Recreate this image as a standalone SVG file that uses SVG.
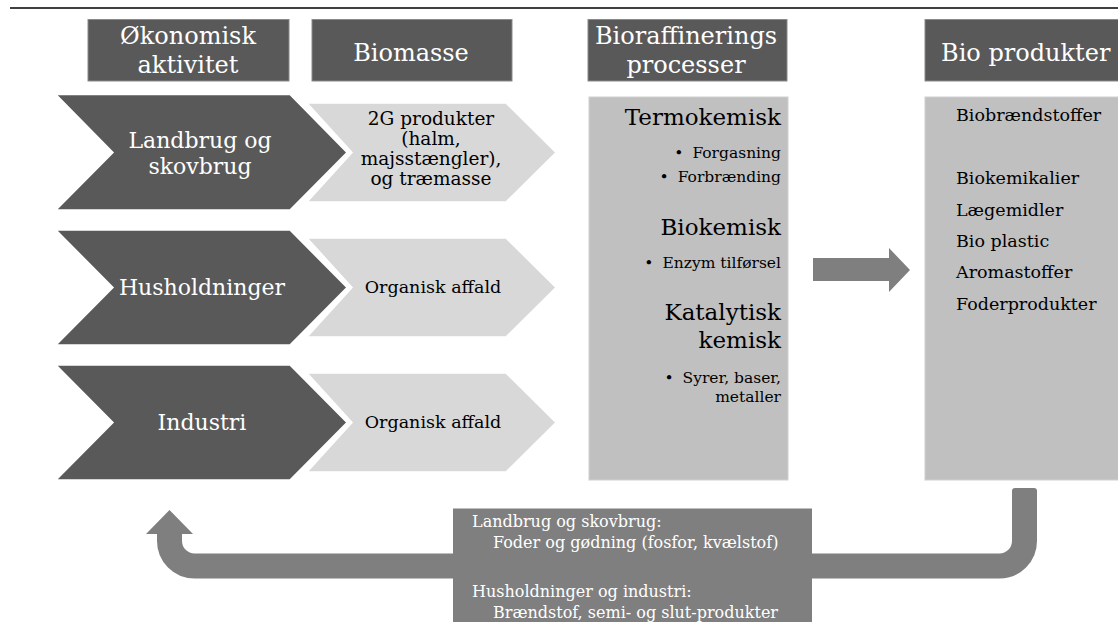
<svg xmlns="http://www.w3.org/2000/svg" width="1118" height="622" viewBox="0 0 1118 622">
<style>
.hdr{fill:#595959;stroke:#8a8a8a;stroke-width:1}
.ht{font-family:"DejaVu Serif",serif;font-size:24px;fill:#fff;text-anchor:middle}
.dk{fill:#595959;stroke:#fff;stroke-width:1.5}
.lc{fill:#d8d8d8;stroke:#fff;stroke-width:1.5}
.dt{font-family:"DejaVu Serif",serif;font-size:22px;fill:#fff;text-anchor:middle}
.ltx{font-family:"DejaVu Serif",serif;font-size:18.5px;fill:#000;text-anchor:middle}
.box{fill:#c0c0c0;stroke:#d0d0d0;stroke-width:1}
.sec{font-family:"DejaVu Serif",serif;font-size:23px;fill:#000;text-anchor:end}
.bul{font-family:"DejaVu Serif",serif;font-size:15.5px;fill:#000;text-anchor:end}
.prod{font-family:"DejaVu Serif",serif;font-size:17.5px;fill:#000}
.arrow{fill:#7f7f7f}
.band{fill:none;stroke:#7f7f7f;stroke-width:25}
.bt{font-family:"DejaVu Serif",serif;font-size:16px;fill:#fff}
</style>
<line x1="10" y1="8" x2="1118" y2="8" stroke="#000" stroke-width="1.5"/>

<g id="hdr-okonomisk">
<rect class="hdr" x="88" y="19.5" width="201" height="61.5"/>
<text class="ht" x="188" y="44">Økonomisk</text>
<text class="ht" x="188" y="73">aktivitet</text>
</g>
<g id="hdr-biomasse">
<rect class="hdr" x="312" y="19.5" width="200" height="61.5"/>
<text class="ht" x="411" y="61">Biomasse</text>
</g>
<g id="hdr-bioraff">
<rect class="hdr" x="588" y="19.5" width="199" height="61.5"/>
<text class="ht" x="686" y="44">Bioraffinerings</text>
<text class="ht" x="686" y="73">processer</text>
</g>
<g id="hdr-bioprod">
<rect class="hdr" x="925" y="19.5" width="200" height="61.5"/>
<text class="ht" x="941" y="61" style="text-anchor:start">Bio produkter</text>
</g>

<g id="row1-dark">
<polygon class="dk" points="56,94.5 290,94.5 347,152.5 290,210 56,210 113,152.5"/>
<text class="dt" x="200" y="148">Landbrug og</text>
<text class="dt" x="200" y="174">skovbrug</text>
</g>
<g id="row1-light">
<polygon class="lc" points="307,103 506,103 556,152.5 506,202 307,202 352,152.5"/>
<text class="ltx" x="431" y="125">2G produkter</text>
<text class="ltx" x="431" y="145">(halm,</text>
<text class="ltx" x="431" y="165">majsstængler),</text>
<text class="ltx" x="431" y="185">og træmasse</text>
</g>
<g id="row2-dark">
<polygon class="dk" points="56,230 290,230 347,287.5 290,345 56,345 113,287.5"/>
<text class="dt" x="202" y="295">Husholdninger</text>
</g>
<g id="row2-light">
<polygon class="lc" points="307,238 506,238 556,287.5 506,337 307,337 352,287.5"/>
<text class="ltx" x="433" y="293" style="font-size:17.5px">Organisk affald</text>
</g>
<g id="row3-dark">
<polygon class="dk" points="56,365 290,365 347,422.5 290,480 56,480 113,422.5"/>
<text class="dt" x="202" y="430">Industri</text>
</g>
<g id="row3-light">
<polygon class="lc" points="307,373 506,373 556,422.5 506,472 307,472 352,422.5"/>
<text class="ltx" x="433" y="428" style="font-size:17.5px">Organisk affald</text>
</g>

<g id="processer">
<rect class="box" x="589" y="97" width="199" height="383"/>
<text class="sec" x="781" y="125">Termokemisk</text>
<text class="bul" x="781" y="158"><tspan>•</tspan><tspan dx="9">Forgasning</tspan></text>
<text class="bul" x="781" y="182"><tspan>•</tspan><tspan dx="9">Forbrænding</tspan></text>
<text class="sec" x="781" y="235">Biokemisk</text>
<text class="bul" x="781" y="268"><tspan>•</tspan><tspan dx="9">Enzym tilførsel</tspan></text>
<text class="sec" x="781" y="320">Katalytisk</text>
<text class="sec" x="781" y="348">kemisk</text>
<text class="bul" x="781" y="383"><tspan>•</tspan><tspan dx="9">Syrer, baser,</tspan></text>
<text class="bul" x="781" y="402">metaller</text>
</g>

<g id="produkter">
<rect class="box" x="925" y="97" width="200" height="383"/>
<text class="prod" x="956" y="121">Biobrændstoffer</text>
<text class="prod" x="956" y="184">Biokemikalier</text>
<text class="prod" x="956" y="216">Lægemidler</text>
<text class="prod" x="956" y="247">Bio plastic</text>
<text class="prod" x="956" y="278">Aromastoffer</text>
<text class="prod" x="956" y="310">Foderprodukter</text>
</g>

<g id="connectors">
<polygon class="arrow" points="813,258 889,258 889,248 910,270 889,292 889,281 813,281"/>
<path class="band" d="M169.5,532 L169.5,541 A25,25 0 0 0 194.5,566 L999.5,566 A25,25 0 0 0 1024.5,541 L1024.5,492"/>
<rect class="arrow" x="1012" y="488" width="25" height="10" rx="3"/>
<polygon class="arrow" points="146,534 169.5,510 193,534"/>
</g>

<g id="retur-tekst">
<rect class="arrow" x="453" y="508.5" width="359" height="114"/>
<text class="bt" x="472" y="527">Landbrug og skovbrug:</text>
<text class="bt" x="493" y="548">Foder og gødning (fosfor, kvælstof)</text>
<text class="bt" x="472" y="597">Husholdninger og industri:</text>
<text class="bt" x="493" y="618">Brændstof, semi- og slut-produkter</text>
</g>
</svg>
